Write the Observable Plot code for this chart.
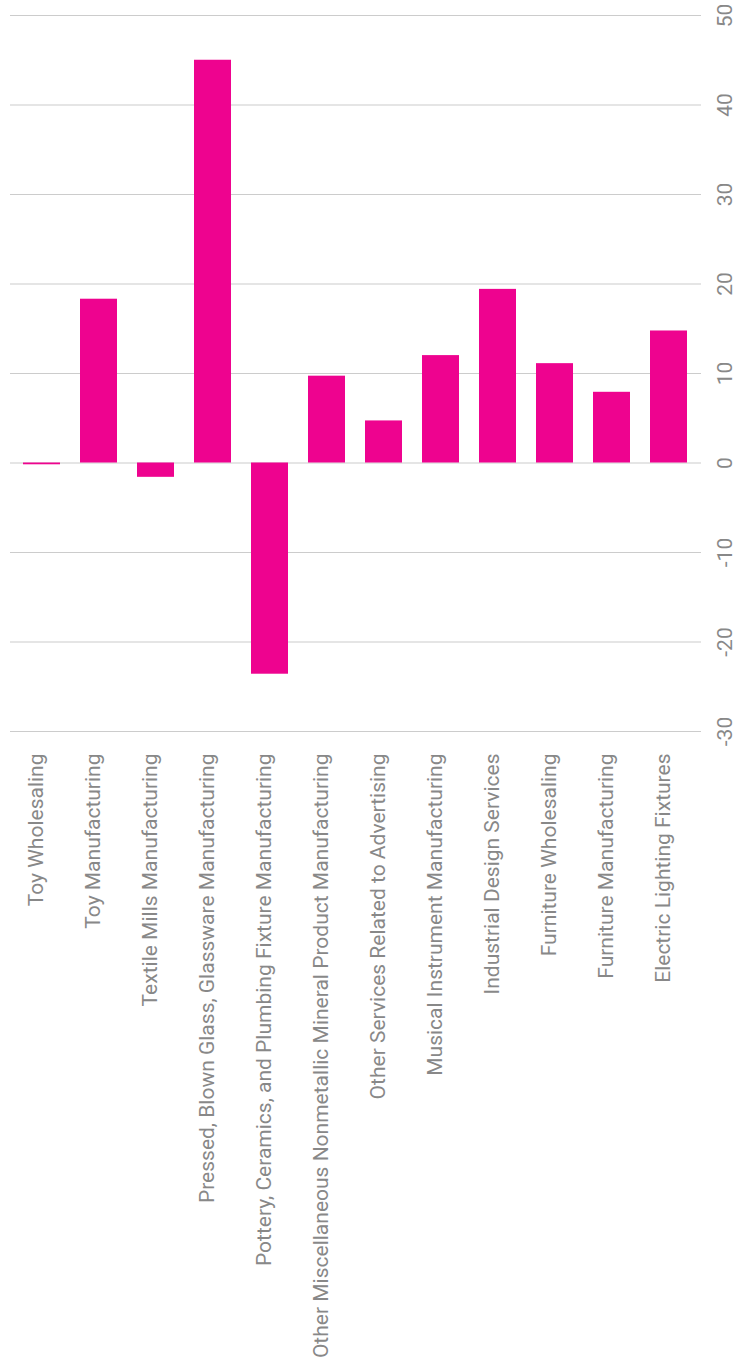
<!DOCTYPE html>
<html>
<head>
<meta charset="utf-8">
<script src="https://cdn.jsdelivr.net/npm/d3@7"></script>
<script src="https://cdn.jsdelivr.net/npm/@observablehq/plot@0.6"></script>
<style>
  html, body { margin: 0; padding: 0; background: #fff; }
  #chart svg { display: block; }
</style>
</head>
<body>
<div id="chart"></div>
<script>
const categories = [
  "Toy Wholesaling",
  "Toy Manufacturing",
  "Textile Mills Manufacturing",
  "Pressed, Blown Glass, Glassware Manufacturing",
  "Pottery, Ceramics, and Plumbing Fixture Manufacturing",
  "Other Miscellaneous Nonmetallic Mineral Product Manufacturing",
  "Other Services Related to Advertising",
  "Musical Instrument Manufacturing",
  "Industrial Design Services",
  "Furniture Wholesaling",
  "Furniture Manufacturing",
  "Electric Lighting Fixtures"
];
const values = [-0.2, 18.3, -1.6, 45.0, -23.6, 9.7, 4.7, 12.0, 19.4, 11.1, 7.9, 14.75];
const yTicks = [-30, -20, -10, 0, 10, 20, 30, 40, 50];

const data = categories.map((c, i) => ({category: c, value: values[i]}));

const chart = Plot.plot({
  width: 738,
  height: 1369,
  marginTop: 15,
  marginBottom: 638,
  marginLeft: 10,
  marginRight: 37,
  style: {fontFamily: "Roboto, sans-serif", fontSize: "21px", fontWeight: 400, color: "#888", background: "#fff"},
  x: {domain: categories, paddingInner: 0.35, paddingOuter: 0.18, label: null},
  y: {domain: [-30, 50], label: null},
  marks: [
    Plot.gridY(yTicks, {stroke: "#ccc", strokeOpacity: 1, strokeWidth: 1.2}),
    Plot.barY(data, {x: "category", y: "value", fill: "#ee038f"}),
    Plot.axisY(yTicks, {anchor: "right", tickSize: 0, tickPadding: 30, tickRotate: -90, tickFormat: d => String(d), label: null, fill: "#888", fontSize: 21}),
    Plot.axisX({anchor: "bottom", tickSize: 0, tickPadding: 22, tickRotate: -90, dx: -6, label: null, fill: "#888", fontSize: 21})
  ]
});
document.getElementById("chart").appendChild(chart);
</script>
</body>
</html>
